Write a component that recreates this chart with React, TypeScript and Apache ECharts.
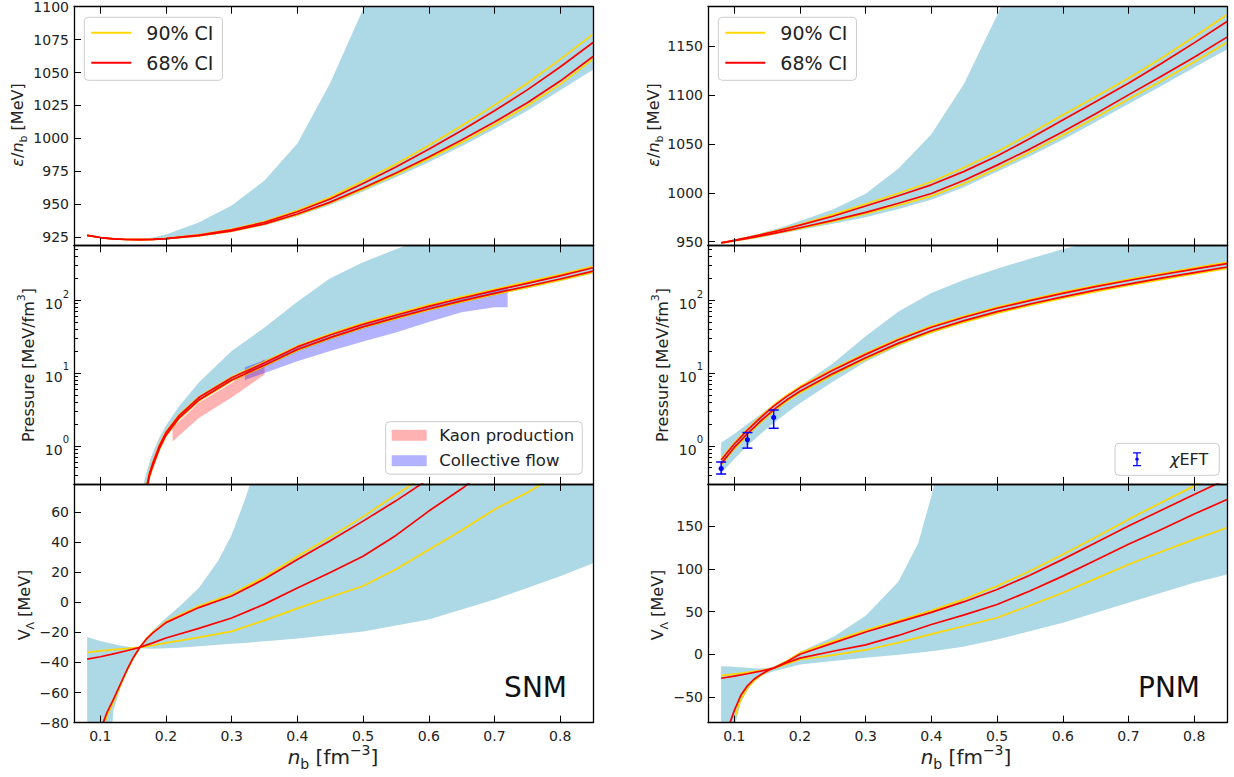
import React, { useEffect, useRef } from "react";
import * as echarts from "echarts";

// ---------------- data ----------------
const xTicks = [0.1, 0.2, 0.3, 0.4, 0.5, 0.6, 0.7, 0.8];

// energy per baryon grid
const eX = [0.08, 0.1, 0.12, 0.14, 0.16, 0.18, 0.2, 0.25, 0.3, 0.35, 0.4, 0.45, 0.5, 0.55, 0.6, 0.65, 0.7, 0.75, 0.8, 0.85];

// SNM energy per baryon
const snmE90Hi = [926.2, 924.6, 923.6, 923.1, 923.0, 923.2, 923.9, 926.6, 930.8, 936.8, 945.1, 955.2, 967.5, 980.5, 994.5, 1009.5, 1025.2, 1041.8, 1060.0, 1079.2];
const snmE68Hi = [926.2, 924.6, 923.6, 923.1, 923.0, 923.2, 923.8, 926.4, 930.4, 936.2, 944.2, 953.9, 965.7, 978.2, 991.6, 1005.9, 1020.9, 1036.8, 1054.2, 1072.8];
const snmE68Lo = [926.2, 924.6, 923.6, 923.1, 923.0, 923.2, 923.7, 926.0, 929.7, 935.0, 942.5, 951.5, 962.3, 973.7, 985.8, 998.7, 1012.4, 1027.0, 1043.5, 1062.2];
const snmE90Lo = [926.2, 924.6, 923.6, 923.1, 923.0, 923.2, 923.7, 925.9, 929.5, 934.7, 942.0, 950.8, 961.4, 972.5, 984.4, 996.9, 1010.3, 1024.7, 1041.0, 1060.2];
const snmEBandHi = [926.7, 925.1, 924.1, 923.6, 923.6, 924.6, 927.0, 936, 949, 968, 996, 1042, 1098, 1170, 1250, 1330, 1400, 1480, 1560, 1640];
const snmEBandLo = [925.7, 924.1, 923.1, 922.6, 922.5, 922.7, 923.2, 925.3, 928.7, 933.7, 940.8, 949.4, 959.6, 970.4, 981.8, 994.0, 1007.0, 1021.0, 1036.5, 1052.0];

// PNM energy per baryon
const pnmE90Hi = [948.8, 951.4, 954.2, 957.2, 960.4, 963.8, 967.4, 977.6, 988.5, 999.5, 1011.3, 1026.0, 1042.0, 1060.5, 1079.8, 1098.5, 1117.5, 1138.0, 1160.0, 1182.6];
const pnmE68Hi = [948.8, 951.3, 954.0, 957.0, 960.1, 963.4, 966.9, 976.0, 986.5, 997.0, 1008.2, 1022.0, 1037.7, 1055.7, 1074.7, 1093.3, 1112.4, 1132.5, 1153.7, 1175.7];
const pnmE68Lo = [948.6, 950.9, 953.2, 955.8, 958.5, 961.3, 964.2, 971.8, 980.0, 989.3, 999.3, 1012.9, 1028.4, 1044.8, 1062.6, 1081.0, 1100.4, 1119.4, 1139.0, 1159.6];
const pnmE90Lo = [948.5, 950.7, 952.9, 955.4, 958.0, 960.7, 963.5, 970.8, 978.5, 987.3, 996.6, 1009.5, 1025.0, 1041.6, 1059.0, 1077.3, 1095.9, 1114.7, 1134.0, 1154.0];
const pnmEBandHi = [949.3, 952.2, 955.2, 958.6, 962.3, 966.4, 971.0, 983.0, 999.0, 1025.0, 1060.0, 1112.0, 1182.0, 1260, 1350, 1450, 1550, 1650, 1750, 1850];
const pnmEBandLo = [947.8, 949.9, 952.0, 954.3, 956.7, 959.2, 961.8, 968.3, 975.0, 983.5, 993.0, 1006.0, 1021.5, 1037.5, 1054.5, 1072.5, 1091.0, 1109.5, 1128.5, 1147.0];

// SNM pressure
const snmPX = [0.17, 0.175, 0.18, 0.19, 0.2, 0.22, 0.25, 0.3, 0.35, 0.4, 0.45, 0.5, 0.55, 0.6, 0.65, 0.7, 0.75, 0.8, 0.85];
const snmP90Hi = [0.27, 0.43, 0.6, 1.03, 1.56, 2.66, 4.7, 8.8, 14.2, 23.5, 34.5, 48.5, 65, 86, 111, 141, 178, 225, 292];
const snmP68Hi = [0.26, 0.42, 0.58, 1.0, 1.52, 2.6, 4.6, 8.6, 13.8, 22.8, 33.2, 46.5, 62, 82, 106, 135, 170, 215, 278];
const snmP68Lo = [0.24, 0.39, 0.53, 0.92, 1.4, 2.42, 4.25, 8.0, 12.8, 21, 30.6, 43, 57.5, 75.5, 97.5, 124, 155, 195, 250];
const snmP90Lo = [0.23, 0.38, 0.52, 0.9, 1.37, 2.36, 4.15, 7.8, 12.5, 20.4, 29.8, 41.8, 55.8, 73.3, 94.5, 120, 150, 188, 240];
const snmPBandX = [0.165, 0.17, 0.175, 0.18, 0.19, 0.2, 0.22, 0.25, 0.3, 0.35, 0.4, 0.45, 0.5, 0.55, 0.6, 0.65, 0.7, 0.75, 0.8, 0.85];
const snmPBandHi = [0.28, 0.42, 0.6, 0.8, 1.3, 1.9, 3.5, 7.4, 20, 42, 95, 200, 330, 500, 720, 1000, 1300, 1600, 2000, 2400];
const snmPBandLo = [0.12, 0.2, 0.33, 0.47, 0.84, 1.3, 2.25, 4.0, 7.5, 12.0, 19.6, 28.6, 40.2, 53.7, 70.8, 91.5, 116, 144.5, 181, 231];

// heavy-ion constraints
const kaonX = [0.21, 0.25, 0.3, 0.35];
const kaonHi = [1.75, 3.9, 7.3, 15.5];
const kaonLo = [1.15, 2.4, 4.6, 9.5];
const flowX = [0.32, 0.35, 0.4, 0.45, 0.5, 0.55, 0.6, 0.65, 0.7, 0.72];
const flowHi = [12, 15, 22, 32, 45, 60, 80, 104, 140, 155];
const flowLo = [8, 10, 14.5, 20, 27, 36, 50, 68, 80, 80];

// PNM pressure
const pnmP90Hi = [0.66, 1.1, 1.7, 2.53, 3.63, 4.95, 6.5, 11.3, 18.7, 29.7, 44, 60.5, 80.3, 102, 129, 158, 193, 231, 277, 330];
const pnmP68Hi = [0.64, 1.06, 1.64, 2.44, 3.5, 4.77, 6.25, 10.9, 18, 28.6, 42.4, 58.3, 77.4, 98.6, 124, 153, 186, 223, 267, 318];
const pnmP68Lo = [0.57, 0.95, 1.47, 2.19, 3.14, 4.28, 5.6, 9.8, 16.2, 25.7, 38, 52.3, 69.4, 88.4, 111, 137, 166, 200, 239, 285];
const pnmP90Lo = [0.55, 0.91, 1.41, 2.09, 3.0, 4.1, 5.37, 9.4, 15.5, 24.6, 36.4, 50, 66.4, 84.6, 106, 131, 159, 191, 229, 273];
const pnmPBandHi = [1.1, 1.45, 2.0, 2.7, 3.7, 4.9, 6.6, 13.5, 32, 70, 125, 190, 270, 370, 500, 650, 850, 1100, 1400, 1800];
const pnmPBandLo = [0.42, 0.66, 1.0, 1.45, 2.05, 2.85, 3.85, 7.6, 14.3, 23.2, 35, 48.5, 64.5, 83, 105, 130, 158, 190, 227, 270];

// chiral EFT points
const eftX = [0.08, 0.12, 0.16];
const eftY = [0.49, 1.21, 2.45];
const eftLo = [0.41, 0.93, 1.74];
const eftHi = [0.6, 1.52, 3.1];

// SNM hyperon potential
const snmV90HiX = [0.107, 0.11, 0.12, 0.13, 0.14, 0.15, 0.16, 0.17, 0.18, 0.2, 0.25, 0.3, 0.35, 0.4, 0.45, 0.5, 0.55, 0.6];
const snmV90Hi = [-80, -75.5, -66, -56, -46, -37.3, -30, -24.2, -19.8, -12.8, -2.5, 5.5, 17, 30.5, 43.5, 57, 71.5, 86];
const snmV68HiX = [0.1046, 0.11, 0.12, 0.13, 0.14, 0.15, 0.16, 0.17, 0.18, 0.2, 0.25, 0.3, 0.35, 0.4, 0.45, 0.5, 0.55, 0.6];
const snmV68Hi = [-80, -73.5, -64.5, -55, -45.5, -37, -30, -24.5, -20.3, -13.5, -3.5, 4.2, 15.5, 28.5, 41, 54, 67.5, 82];
const snmVLoX = [0.08, 0.1, 0.12, 0.14, 0.16, 0.18, 0.2, 0.25, 0.3, 0.35, 0.4, 0.45, 0.5, 0.55, 0.6, 0.65, 0.7, 0.75, 0.8];
const snmV68Lo = [-37.8, -36.2, -34.3, -32.2, -30, -27, -23.7, -17.3, -10.4, -1.2, 9.5, 19.8, 30.7, 44.5, 60.7, 75.5, 92, 108, 125];
const snmV90Lo = [-33.3, -32.3, -31.5, -30.8, -30, -28.6, -27, -23.3, -19.3, -12, -4, 3.5, 10.9, 22, 35, 48, 61.8, 73, 86];
const snmVBandX = [0.08, 0.1, 0.115, 0.12, 0.13, 0.14, 0.15, 0.16, 0.18, 0.2, 0.22, 0.25, 0.28, 0.3, 0.32, 0.34, 0.36, 0.4, 0.5, 0.6, 0.7, 0.8, 0.85];
const snmVBandHi = [-23, -25.8, -27.3, -27.8, -28.8, -29.4, -29.8, -30, -18.5, -10.5, -3, 9.5, 28, 45, 68, 95, 125, 200, 300, 400, 500, 600, 700];
const snmVBandLo = [-110, -110, -100, -72, -58, -47, -38, -30.5, -30.8, -30.5, -30.2, -29.3, -28.3, -27.5, -27, -26.3, -25.6, -24, -19.4, -11.5, 1.8, 17.3, 26];

// PNM hyperon potential
const pnmV90HiX = [0.099, 0.105, 0.11, 0.12, 0.13, 0.14, 0.15, 0.16, 0.18, 0.2, 0.25, 0.3, 0.35, 0.4, 0.45, 0.5, 0.55, 0.6, 0.65, 0.7, 0.75, 0.8, 0.85];
const pnmV90Hi = [-80, -63, -53, -39.5, -31, -25, -20, -16, -8, 1.6, 15, 28, 39.5, 51, 64.5, 79.7, 97.5, 116.8, 137, 157.8, 177.5, 197, 216];
const pnmV68HiX = [0.0935, 0.1, 0.11, 0.12, 0.13, 0.14, 0.15, 0.16, 0.18, 0.2, 0.25, 0.3, 0.35, 0.4, 0.45, 0.5, 0.55, 0.6, 0.65, 0.7, 0.75, 0.8, 0.85];
const pnmV68Hi = [-80, -66, -48, -37, -29.3, -24, -19.5, -16, -8.8, 0, 13, 26, 37.5, 49, 61.5, 75.8, 92.5, 111, 130.5, 150, 168.5, 187, 205];
const pnmV68Lo = [-28.1, -25.6, -22.8, -19.8, -16.3, -10, -4.5, 3.5, 11, 22, 34.8, 46, 58.2, 74, 91.4, 110, 128.6, 146, 164, 181];
const pnmV90Lo = [-25, -23.2, -21.2, -19, -16.5, -11.5, -6.2, -1, 5, 13.5, 23.5, 33, 42.7, 57, 72, 88.5, 105, 120, 134.4, 148];
const pnmVBandX = [0.08, 0.095, 0.1, 0.11, 0.12, 0.13, 0.14, 0.15, 0.16, 0.18, 0.2, 0.25, 0.3, 0.35, 0.38, 0.4, 0.42, 0.45, 0.5, 0.6, 0.7, 0.8, 0.85];
const pnmVBandHi = [-14, -14.5, -14.8, -15.3, -15.8, -16.3, -16.6, -16.3, -14.5, -7, 3, 20, 45, 85, 130, 185, 250, 320, 400, 500, 600, 700, 800];
const pnmVBandLo = [-110, -110, -85, -57, -42, -32.5, -26, -22.5, -20, -16, -12, -8, -4.2, -0.5, 1.8, 3.5, 5.5, 9, 17.2, 36.8, 60.2, 83.7, 93.4];

// axis ticks
const ticksTL = [925, 950, 975, 1000, 1025, 1050, 1075, 1100];
const ticksTR = [950, 1000, 1050, 1100, 1150];
const ticksP = [1, 10, 100];
const minorP = [0.3, 0.4, 0.5, 0.6, 0.7, 0.8, 0.9, 2, 3, 4, 5, 6, 7, 8, 9, 20, 30, 40, 50, 60, 70, 80, 90, 200, 300, 400, 500];
const ticksBL = [-80, -60, -40, -20, 0, 20, 40, 60];
const ticksBR = [-50, 0, 50, 100, 150];

// ---------------- styling ----------------
const FONT = "DejaVu Sans";
const TXT = "#222222";
const BAND = "#add8e6";
const GOLD = "#ffd700";
const RED = "#ff0000";
const GL = [74, 708];
const GW = 519;
const GT = [6.7, 245.3, 484];
const GH = 238.6;
const X_MIN = 0.06;
const X_MAX = 0.85;

type YCfg = { type: "value" | "log"; min: number; max: number; ticks: number[]; minor?: number[] };
const Y_CFG: YCfg[] = [
  { type: "value", min: 918.7, max: 1100, ticks: ticksTL },
  { type: "value", min: 946.2, max: 1190.8, ticks: ticksTR },
  { type: "log", min: 0.3, max: 566, ticks: ticksP, minor: minorP },
  { type: "log", min: 0.3, max: 566, ticks: ticksP, minor: minorP },
  { type: "value", min: -80, max: 78.7, ticks: ticksBL },
  { type: "value", min: -80, max: 199.2, ticks: ticksBR },
];

function richSet(fs: number) {
  const L = fs + 8;
  return {
    r: { fontSize: fs, fontFamily: FONT, color: TXT, lineHeight: L, verticalAlign: "middle" },
    i: { fontSize: fs, fontFamily: FONT, fontStyle: "italic", color: TXT, lineHeight: L, verticalAlign: "middle" },
    sb: { fontSize: Math.round(fs * 0.7), fontFamily: FONT, color: TXT, lineHeight: L - 6, verticalAlign: "bottom" },
    sp: { fontSize: Math.round(fs * 0.7), fontFamily: FONT, color: TXT, lineHeight: L - 12, verticalAlign: "top" },
  };
}

const fmtLin = (v: number) => (v < 0 ? "\u2212" + Math.abs(v) : String(v));

function buildOption() {
  const grid: any[] = [];
  const xAxis: any[] = [];
  const yAxis: any[] = [];
  const series: any[] = [];
  const yMain: number[] = [];
  const frame = { show: true, onZero: false, lineStyle: { color: "#000", width: 1.3 } };
  const tickLine = { color: "#000", width: 1 };

  for (let gi = 0; gi < 6; gi++) {
    const row = Math.floor(gi / 2);
    const col = gi % 2;
    grid.push({ left: GL[col], top: GT[row], width: GW, height: GH, show: false, containLabel: false, outerBoundsMode: "none" });
    const xBase = { type: "value", gridIndex: gi, min: X_MIN, max: X_MAX, splitLine: { show: false }, z: 10, axisLine: frame };
    xAxis.push({
      ...xBase,
      position: "bottom",
      axisTick: { show: true, inside: true, length: 7, customValues: xTicks, lineStyle: tickLine },
      axisLabel: {
        show: row === 2,
        customValues: xTicks,
        formatter: (v: number) => v.toFixed(1),
        margin: 6,
        fontSize: 14,
        fontFamily: FONT,
        color: TXT,
      },
    });
    xAxis.push({
      ...xBase,
      position: "top",
      axisTick: { show: true, inside: true, length: 7, customValues: xTicks, lineStyle: tickLine },
      axisLabel: { show: false },
    });
    const c = Y_CFG[gi];
    const yBase: any = { type: c.type, gridIndex: gi, min: c.min, max: c.max, splitLine: { show: false }, z: 10 };
    if (c.type === "log") yBase.logBase = 10;
    yMain[gi] = yAxis.length;
    const rich = {
      b: { fontSize: 14, fontFamily: FONT, color: TXT, lineHeight: 22, verticalAlign: "bottom" },
      s: { fontSize: 10, fontFamily: FONT, color: TXT, lineHeight: 12, verticalAlign: "top" },
    };
    yAxis.push({
      ...yBase,
      position: "left",
      axisLine: frame,
      axisTick: { show: true, inside: true, length: 7, customValues: c.ticks, lineStyle: tickLine },
      axisLabel: {
        show: true,
        customValues: c.ticks,
        margin: 5,
        fontSize: 14,
        fontFamily: FONT,
        color: TXT,
        formatter:
          c.type === "log"
            ? (v: number) => `{b|10}{s|${Math.round(Math.log10(v))}}`
            : (v: number) => fmtLin(v),
        rich: c.type === "log" ? rich : undefined,
      },
    });
    yAxis.push({ ...yBase, position: "right", axisLine: frame, axisTick: { show: false }, axisLabel: { show: false } });
    if (c.minor) {
      yAxis.push({
        ...yBase,
        position: "left",
        axisLine: { show: false },
        axisTick: { show: true, inside: true, length: 4, customValues: c.minor, lineStyle: tickLine },
        axisLabel: { show: false },
      });
    }
  }

  const band = (gi: number, xs: number[], lo: number[], hi: number[], color: string, z: number, name?: string) => ({
    type: "custom",
    name,
    xAxisIndex: gi * 2,
    yAxisIndex: yMain[gi],
    clip: true,
    silent: true,
    z,
    itemStyle: { color },
    data: [[xs[0], hi[0]]],
    renderItem: (_p: any, api: any) => {
      const pts: number[][] = [];
      for (let k = 0; k < xs.length; k++) pts.push(api.coord([xs[k], hi[k]]));
      for (let k = xs.length - 1; k >= 0; k--) pts.push(api.coord([xs[k], lo[k]]));
      return { type: "polygon", shape: { points: pts, smooth: 0 }, style: { fill: color } };
    },
  });

  const line = (gi: number, name: string, xs: number[], ys: number[], color: string, z: number) => ({
    type: "line",
    name,
    xAxisIndex: gi * 2,
    yAxisIndex: yMain[gi],
    data: xs.map((x, k) => [x, ys[k]]),
    showSymbol: false,
    symbol: "none",
    smooth: false,
    clip: true,
    silent: true,
    z,
    lineStyle: { color, width: 1.7, join: "round" },
    itemStyle: { color },
  });

  // bands
  series.push(band(0, eX, snmEBandLo, snmEBandHi, BAND, 1));
  series.push(band(1, eX, pnmEBandLo, pnmEBandHi, BAND, 1));
  series.push(band(2, snmPBandX, snmPBandLo, snmPBandHi, BAND, 1));
  series.push(band(3, eX, pnmPBandLo, pnmPBandHi, BAND, 1));
  series.push(band(4, snmVBandX, snmVBandLo, snmVBandHi, BAND, 1));
  series.push(band(5, pnmVBandX, pnmVBandLo, pnmVBandHi, BAND, 1));

  // heavy-ion regions
  series.push(band(2, kaonX, kaonLo, kaonHi, "rgba(255,0,0,0.3)", 2, "Kaon production"));
  series.push(band(2, flowX, flowLo, flowHi, "rgba(0,0,255,0.3)", 2, "Collective flow"));

  // CI lines
  const ciSets: any[] = [
    [0, eX, snmE90Hi, eX, snmE90Lo, eX, snmE68Hi, eX, snmE68Lo],
    [1, eX, pnmE90Hi, eX, pnmE90Lo, eX, pnmE68Hi, eX, pnmE68Lo],
    [2, snmPX, snmP90Hi, snmPX, snmP90Lo, snmPX, snmP68Hi, snmPX, snmP68Lo],
    [3, eX, pnmP90Hi, eX, pnmP90Lo, eX, pnmP68Hi, eX, pnmP68Lo],
    [4, snmV90HiX, snmV90Hi, snmVLoX, snmV90Lo, snmV68HiX, snmV68Hi, snmVLoX, snmV68Lo],
    [5, pnmV90HiX, pnmV90Hi, eX, pnmV90Lo, pnmV68HiX, pnmV68Hi, eX, pnmV68Lo],
  ];
  for (const s of ciSets) {
    const gi = s[0];
    series.push(line(gi, "90% CI", s[1], s[2], GOLD, 3));
    series.push(line(gi, "90% CI", s[3], s[4], GOLD, 3));
    series.push(line(gi, "68% CI", s[5], s[6], RED, 4));
    series.push(line(gi, "68% CI", s[7], s[8], RED, 4));
  }

  // chiral EFT error bars
  series.push({
    type: "custom",
    name: "χEFT",
    xAxisIndex: 6,
    yAxisIndex: yMain[3],
    silent: true,
    z: 6,
    itemStyle: { color: "#0000ff" },
    data: eftX.map((x, k) => [x, eftY[k], eftLo[k], eftHi[k]]),
    encode: { x: 0, y: 1 },
    renderItem: (_p: any, api: any) => {
      const x = api.value(0);
      const p = api.coord([x, api.value(1)]);
      const pl = api.coord([x, api.value(2)]);
      const ph = api.coord([x, api.value(3)]);
      const st = { stroke: "#0000ff", lineWidth: 1.5 };
      const w = 5;
      return {
        type: "group",
        children: [
          { type: "line", shape: { x1: p[0], y1: pl[1], x2: p[0], y2: ph[1] }, style: st },
          { type: "line", shape: { x1: p[0] - w, y1: pl[1], x2: p[0] + w, y2: pl[1] }, style: st },
          { type: "line", shape: { x1: p[0] - w, y1: ph[1], x2: p[0] + w, y2: ph[1] }, style: st },
          { type: "circle", shape: { cx: p[0], cy: p[1], r: 2.6 }, style: { fill: "#0000ff" } },
        ],
      };
    },
  });

  const legBase = {
    orient: "vertical",
    selectedMode: false,
    backgroundColor: "rgba(255,255,255,0.85)",
    borderColor: "#cccccc",
    borderWidth: 1,
    borderRadius: 4,
    z: 50,
  };
  const ciLegend = (left: number) => ({
    ...legBase,
    left,
    top: 17.3,
    padding: [6, 9, 8, 7],
    itemGap: 11,
    itemWidth: 40,
    itemHeight: 2,
    icon: "rect",
    data: ["90% CI", "68% CI"],
    formatter: (n: string) => `{t|${n}}`,
    textStyle: { rich: { t: { fontSize: 19, fontFamily: FONT, color: TXT, padding: [0, 0, 0, 10], lineHeight: 19 } } },
  });
  const EFT_ICON =
    "path://M0,0L8,0L8,1.3L4.65,1.3L4.65,12.7L8,12.7L8,14L0,14L0,12.7L3.35,12.7L3.35,1.3L0,1.3Z M4,5.2A1.8,1.8,0,1,1,4,8.8A1.8,1.8,0,1,1,4,5.2Z";
  const legend = [
    ciLegend(84.3),
    ciLegend(718.3),
    {
      ...legBase,
      left: 385.7,
      top: 421.7,
      padding: [5, 8, 5, 6],
      itemGap: 8.5,
      itemWidth: 35,
      itemHeight: 11,
      icon: "rect",
      data: ["Kaon production", "Collective flow"],
      formatter: (n: string) => `{t|${n}}`,
      textStyle: { rich: { t: { fontSize: 16.5, fontFamily: FONT, color: TXT, padding: [0, 0, 0, 7.5], lineHeight: 17 } } },
    },
    {
      ...legBase,
      left: 1115,
      top: 443.3,
      padding: [8, 11, 8, 18],
      itemWidth: 8,
      itemHeight: 14,
      data: [{ name: "χEFT", icon: EFT_ICON }],
      formatter: () => "{c|χ}{e|EFT}",
      textStyle: {
        rich: {
          c: { fontSize: 16, fontFamily: FONT, fontStyle: "italic", color: TXT, padding: [0, 0, 0, 24], lineHeight: 16 },
          e: { fontSize: 16, fontFamily: FONT, color: TXT, lineHeight: 16 },
        },
      },
    },
  ];

  const r16 = richSet(16);
  const r20 = richSet(20);
  const yName = (x: number, y: number, text: string) => ({
    type: "text",
    x,
    y,
    rotation: Math.PI / 2,
    z: 100,
    style: { text, rich: r16, align: "center", verticalAlign: "middle", fontSize: 16, fontFamily: FONT, fill: TXT },
  });
  const xName = (x: number) => ({
    type: "text",
    x,
    y: 757,
    z: 100,
    style: {
      text: "{i|n}{sb|b}{r| [fm}{sp|\u22123}{r|]}",
      rich: r20,
      align: "center",
      verticalAlign: "middle",
      fontSize: 20,
      fontFamily: FONT,
      fill: TXT,
    },
  });
  const eName = "{i|ε}{r|/}{i|n}{sb|b}{r| [MeV]}";
  const pName = "{r|Pressure [MeV/fm}{sp|3}{r|]}";
  const vName = "{r|V}{sb|Λ}{r| [MeV]}";
  const graphic = [
    yName(17, 125, eName),
    yName(653, 125, eName),
    yName(28, 365, pName),
    yName(662, 365, pName),
    yName(24, 605, vName),
    yName(657.5, 605, vName),
    xName(333),
    xName(966),
    {
      type: "text",
      x: 567,
      y: 687.5,
      z: 100,
      style: { text: "SNM", fontSize: 28, fontFamily: FONT, fill: "#111", align: "right", verticalAlign: "middle" },
    },
    {
      type: "text",
      x: 1200,
      y: 687.5,
      z: 100,
      style: { text: "PNM", fontSize: 28, fontFamily: FONT, fill: "#111", align: "right", verticalAlign: "middle" },
    },
  ];

  return {
    animation: false,
    backgroundColor: "#ffffff",
    grid,
    xAxis,
    yAxis,
    series,
    legend,
    graphic,
  };
}

export default function App() {
  const ref = useRef<HTMLDivElement>(null);
  useEffect(() => {
    document.body.style.margin = "0";
    const chart = echarts.init(ref.current!, null, { renderer: "svg" });
    chart.setOption(buildOption() as any);
    return () => chart.dispose();
  }, []);
  return <div ref={ref} style={{ width: 1234, height: 777 }} />;
}
